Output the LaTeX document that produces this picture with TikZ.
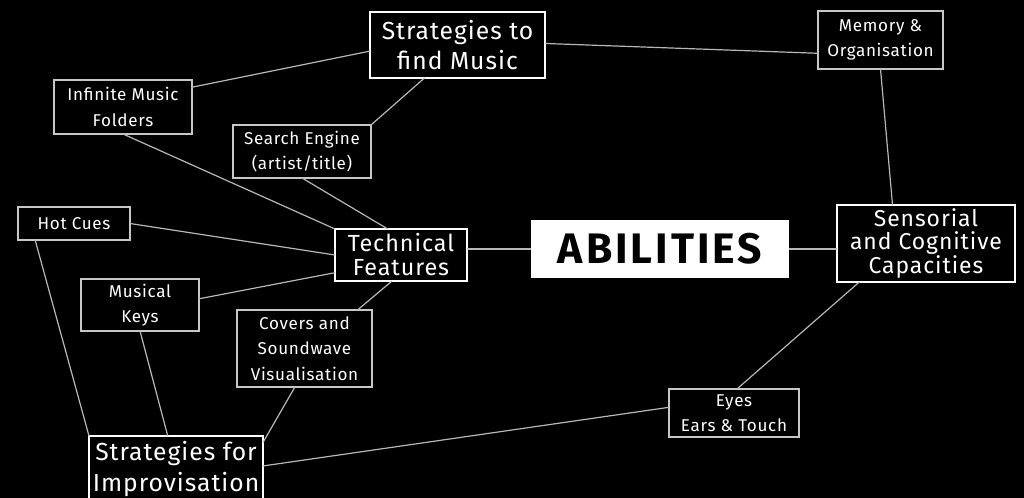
\documentclass[tikz,border=0pt]{standalone}
\usepackage{fontspec}
\setmainfont{Fira Sans}[LetterSpace=4]
\definecolor{linegray}{gray}{0.72}
\definecolor{boxgray}{gray}{0.78}
\begin{document}
\begin{tikzpicture}[x=0.75pt,y=-0.75pt]
    \tikzstyle{leaf}=[rectangle,draw=boxgray,line width=0.8pt,text=white,font=\fontsize{12.8}{19}\selectfont,align=center,inner sep=0pt,outer sep=0pt]
    \tikzstyle{branch}=[rectangle,draw=white,line width=1.5pt,text=white,align=center,inner sep=0pt,outer sep=0pt]
    \tikzstyle{core}=[rectangle,fill=white,text=black,font=\bfseries\fontsize{32}{36}\selectfont\addfontfeatures{LetterSpace=7},inner sep=0pt,outer sep=0pt]
    \tikzstyle{link}=[draw=linegray,line width=0.9pt]
    \fill[black] (0,0) rectangle (1024,498);
    \useasboundingbox (0,0) rectangle (1024,498);
    \node[core,minimum width=193.5pt,minimum height=43.5pt] (abilities) at (660,249) {ABILITIES};
    \node[branch,minimum width=99pt,minimum height=39pt,font=\fontsize{17.5}{18}\selectfont] (tech) at (401,255) {Technical\\Features};
    \node[branch,minimum width=133.5pt,minimum height=57.75pt,font=\fontsize{17.2}{17}\selectfont] (sens) at (926,243.5) {Sensorial\\and Cognitive\\Capacities};
    \node[branch,minimum width=131.25pt,minimum height=49.5pt,font=\fontsize{18.5}{23}\selectfont] (find) at (457.5,45) {Strategies to\\find Music};
    \node[branch,minimum width=130.5pt,minimum height=49.5pt,font=\fontsize{18.5}{23}\selectfont] (improv) at (176,469) {Strategies for\\Improvisation};
    \node[leaf,minimum width=103.5pt,minimum height=40.5pt] (infinite) at (123,107) {Infinite Music\\Folders};
    \node[leaf,minimum width=103.5pt,minimum height=39.75pt] (search) at (302,151.5) {Search Engine\\(artist/title)};
    \node[leaf,minimum width=93.75pt,minimum height=43.5pt] (memory) at (880.5,40) {Memory \&\\Organisation};
    \node[leaf,minimum width=84pt,minimum height=24.75pt] (hotcues) at (74,223.5) {Hot Cues};
    \node[leaf,minimum width=88.5pt,minimum height=39pt] (keys) at (140,305) {Musical\\Keys};
    \node[leaf,minimum width=101.25pt,minimum height=57.75pt] (covers) at (304.5,348.5) {Covers and\\Soundwave\\Visualisation};
    \node[leaf,minimum width=97.5pt,minimum height=36pt] (eyes) at (734,413) {Eyes\\Ears \& Touch};
    \draw[link] (abilities.west) -- (abilities.west -| tech.east);
    \draw[link] (abilities.east) -- (abilities.east -| sens.west);
    \draw[link] (infinite.16) -- (find.184);
    \draw[link] (find.225) -- (search.north east);
    \draw[link] (find.1) -- (memory.192);
    \draw[link] (memory.south) -- (sens.131);
    \draw[link] (search.south) -- (tech.117);
    \draw[link] (infinite.south) -- (tech.north west);
    \draw[link] (hotcues.east) -- (tech.west);
    \draw[link] (keys.6) -- (tech.195);
    \draw[link] (tech.251) -- (covers.36);
    \draw[link] (hotcues.203) -- (improv.north west);
    \draw[link] (keys.south) -- (improv.104);
    \draw[link] (covers.256) -- (improv.17);
    \draw[link] (improv.2) -- (eyes.175);
    \draw[link] (sens.210) -- (eyes.83);
\end{tikzpicture}
\end{document}
